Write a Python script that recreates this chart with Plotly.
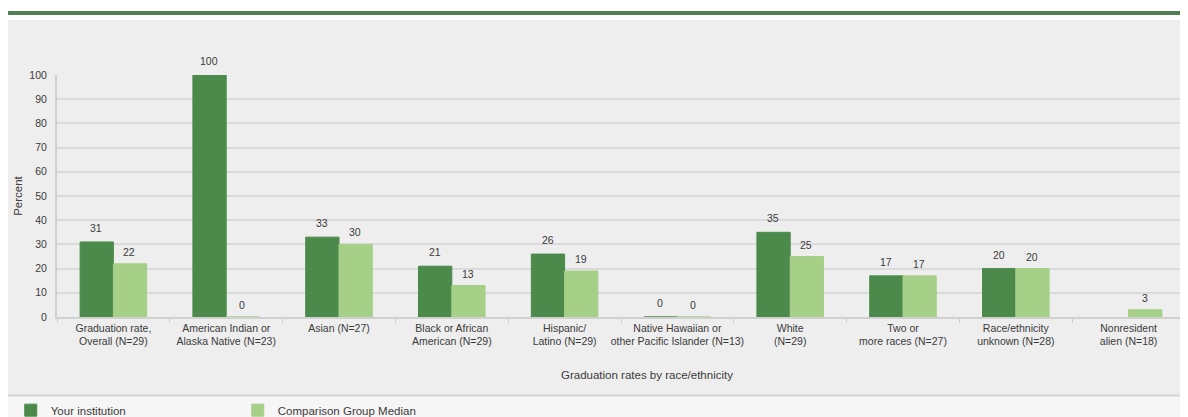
import plotly.graph_objects as go

categories = [
    "Graduation rate,<br>Overall (N=29)",
    "American Indian or<br>Alaska Native (N=23)",
    "Asian (N=27)",
    "Black or African<br>American (N=29)",
    "Hispanic/<br>Latino (N=29)",
    "Native Hawaiian or<br>other Pacific Islander (N=13)",
    "White<br>(N=29)",
    "Two or<br>more races (N=27)",
    "Race/ethnicity<br>unknown (N=28)",
    "Nonresident<br>alien (N=18)",
]
your_institution = [31, 100, 33, 21, 26, 0, 35, 17, 20, None]
comparison_median = [22, 0, 30, 13, 19, 0, 25, 17, 20, 3]

DARK = "#4b8a4a"
LIGHT = "#a6cf88"
TXT = "#3a3a3a"

fig = go.Figure()
fig.add_trace(go.Bar(name="Your institution", x=categories, y=your_institution,
                     marker=dict(color=DARK, line=dict(color=DARK, width=1)),
                     offsetgroup="a"))
fig.add_trace(go.Bar(name="Comparison Group Median", x=categories, y=comparison_median,
                     marker=dict(color=LIGHT, line=dict(color=LIGHT, width=1)),
                     offsetgroup="b"))

annotations = []
for cat, v in zip(categories, your_institution):
    if v is None:
        continue
    annotations.append(dict(x=cat, y=v, xref="x", yref="y", text=str(v), showarrow=False,
                            xshift=-17, yshift=14, font=dict(size=10.5, color=TXT)))
for cat, v in zip(categories, comparison_median):
    if v is None:
        continue
    annotations.append(dict(x=cat, y=v, xref="x", yref="y", text=str(v), showarrow=False,
                            xshift=16, yshift=12, font=dict(size=10.5, color=TXT)))

annotations.append(dict(x=0.523, y=-0.24, xref="paper", yref="paper", yanchor="middle",
                        xanchor="center",
                        text="Graduation rates by race/ethnicity", showarrow=False,
                        font=dict(size=11.5, color=TXT)))

shapes = [
    # panel background
    dict(type="rect", xref="paper", yref="paper", x0=-0.0434, x1=1.003, y0=-0.322, y1=1.227,
         fillcolor="#eeeeee", line=dict(width=0), layer="below"),
    # legend area
    dict(type="rect", xref="paper", yref="paper", x0=-0.0434, x1=1.003, y0=-0.5, y1=-0.326,
         fillcolor="#f6f6f6", line=dict(width=0), layer="below"),
    # separator
    dict(type="line", xref="paper", yref="paper", x0=-0.0434, x1=1.003, y0=-0.324, y1=-0.324,
         line=dict(color="#d6d6d6", width=2)),
    # top green rule
    dict(type="line", xref="paper", yref="paper", x0=-0.0434, x1=1.003, y0=1.256, y1=1.256,
         line=dict(color="#4f7f4f", width=4)),
]

fig.update_layout(
    width=1180, height=409,
    margin=dict(l=49, r=3, t=67, b=100, autoexpand=False),
    paper_bgcolor="white",
    plot_bgcolor="#eeeeee",
    barmode="group",
    bargap=0.41,
    bargroupgap=0.0,
    font=dict(family="Liberation Sans, Arial, sans-serif", size=10.5, color=TXT),
    showlegend=True,
    legend=dict(orientation="h", x=-0.041, y=-0.325, xanchor="left", yanchor="top",
                bgcolor="rgba(0,0,0,0)", font=dict(size=11.5, color=TXT),
                entrywidth=182, entrywidthmode="pixels", traceorder="normal"),
    annotations=annotations,
    shapes=shapes,
    xaxis=dict(tickson="boundaries", ticks="outside", ticklen=4, tickcolor="#cfcfcf",
               showline=True, linecolor="#d0d0d0", linewidth=2, tickangle=0, automargin=False,
               tickfont=dict(size=10.5, color=TXT), showgrid=False),
    yaxis=dict(range=[0, 100], dtick=10, showgrid=True, gridcolor="#dadada", gridwidth=2,
               showline=True, linecolor="#d0d0d0", linewidth=2, mirror=True, automargin=False,
               ticks="", ticklabelstandoff=6, tickfont=dict(size=10.5, color=TXT),
               title=dict(text="Percent", font=dict(size=11.5, color=TXT), standoff=4),
               zeroline=False),
)

fig.write_html("out.html")
